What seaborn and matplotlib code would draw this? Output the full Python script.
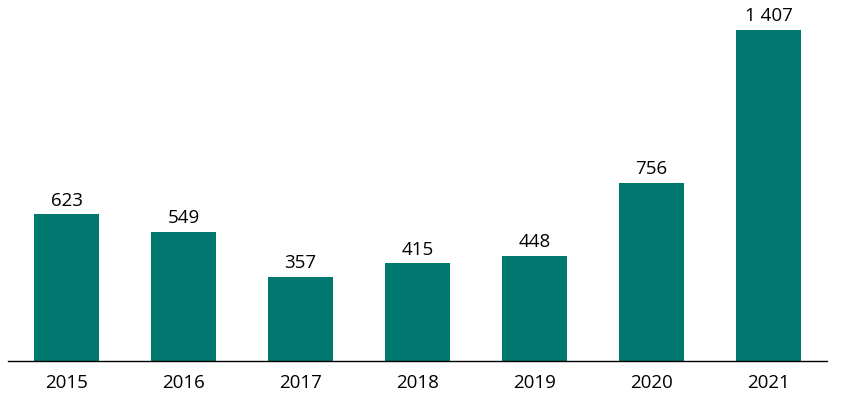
import matplotlib
matplotlib.use("Agg")
import matplotlib.pyplot as plt
import seaborn as sns
import pandas as pd

years = ["2015", "2016", "2017", "2018", "2019", "2020", "2021"]
values = [623, 549, 357, 415, 448, 756, 1407]
labels = ["623", "549", "357", "415", "448", "756", "1 407"]

sns.set_theme(style="white")
plt.rcParams['font.family'] = ['Open Sans', 'DejaVu Sans']

df = pd.DataFrame({"year": years, "value": values})

fig = plt.figure(figsize=(8.44, 3.98), dpi=100)
ax = fig.add_axes([8/844, 1 - 361/398, 819/844, 361/398])
sns.barplot(data=df, x="year", y="value", color="#00786F", width=0.56,
            saturation=1, linewidth=0, ax=ax)
ax.set_xlim(-0.5, 6.5)
ax.set_ylim(0, 1407 * 361 / 331)
for i, (v, t) in enumerate(zip(values, labels)):
    ax.text(i, v + 20, t, ha="center", va="bottom", fontsize=13.5, color="#000000")
ax.set_xlabel("")
ax.set_ylabel("")
ax.set_yticks([])
for s in ["top", "right", "left"]:
    ax.spines[s].set_visible(False)
ax.spines["bottom"].set_color("#000000")
ax.spines["bottom"].set_linewidth(1)
ax.tick_params(axis="x", length=0, labelsize=13.5, pad=9, colors="#000000")
fig.savefig("out.png", dpi=100)
